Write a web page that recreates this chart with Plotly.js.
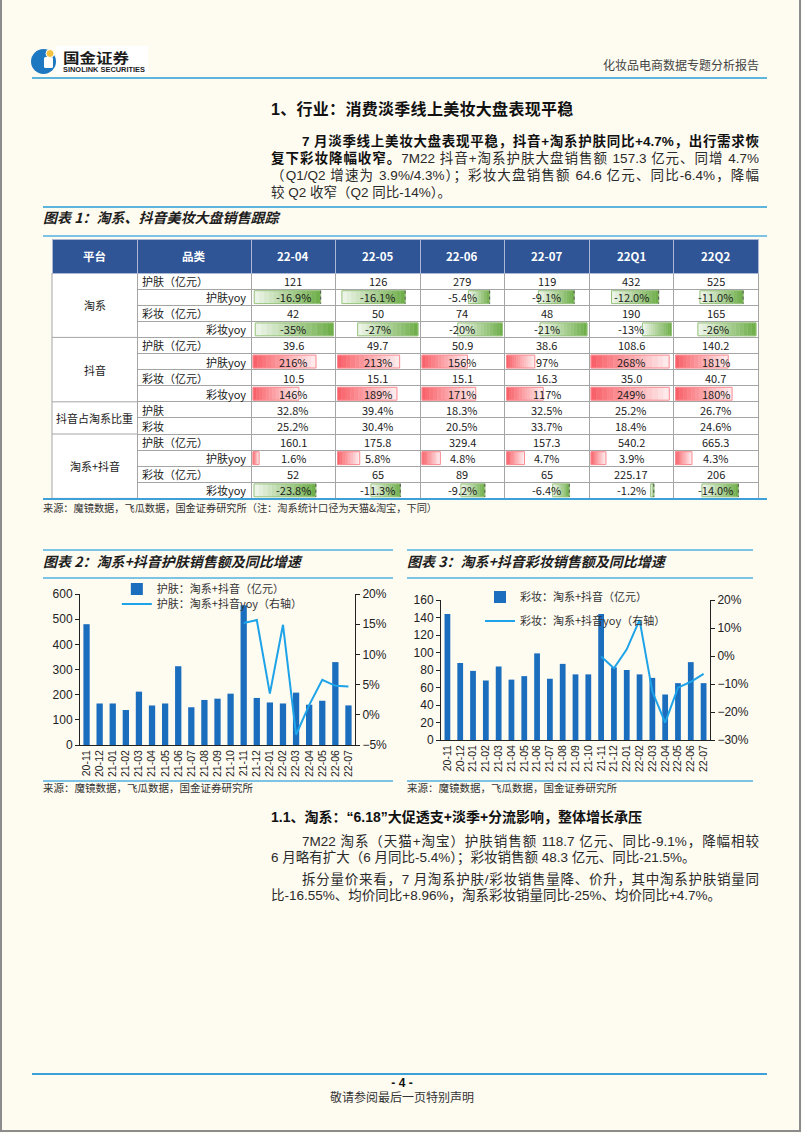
<!DOCTYPE html>
<html lang="zh-CN">
<head>
<meta charset="utf-8">
<title>化妆品电商数据专题分析报告</title>
<script src="https://cdn.plot.ly/plotly-3.0.1.min.js"></script>
<style>
html,body{margin:0;padding:0;background:#fefbf1;}
#page{position:relative;width:802px;height:1133px;overflow:hidden;background:#fefbf1;
  font-family:"Liberation Sans",Arial,"Noto Sans CJK SC",sans-serif;color:#262626;}
.frame{position:absolute;left:0;top:0;width:801px;height:1132px;box-sizing:border-box;
  border-left:2px solid #8c8c8c;border-right:2px solid #8c8c8c;border-bottom:2px solid #8c8c8c;}
.t{position:absolute;white-space:nowrap;}
.hr{position:absolute;background:#5db4dd;height:2px;}
.p{position:absolute;left:271px;width:488px;font-size:13.5px;height:17px;line-height:17px;
  text-align:justify;text-align-last:justify;color:#2a2a2a;}
.p.l{text-align:left;text-align-last:left;}
.ind{text-indent:31px;}
.fig{font-family:"Noto Sans CJK SC",sans-serif;font-weight:bold;font-style:italic;font-size:14px;
  color:#1e1e1e;line-height:18px;}
.src{font-family:"Noto Sans CJK SC",sans-serif;font-size:10.2px;color:#333;line-height:14px;}
.plot{position:absolute;}
</style>
</head>
<body>
<div id="page">
  <div class="frame"></div>

  <!-- header -->
  <svg class="t" style="left:28px;top:44px" width="125" height="36" viewBox="28 44 125 36">
    <rect x="56" y="46" width="92" height="28" fill="#ffffff"/>
    <circle cx="43.5" cy="61.5" r="12.5" fill="#1d78c1"/>
    <rect x="44" y="57" width="9" height="11" rx="1.5" fill="#ffffff"/>
    <circle cx="50" cy="53.5" r="4" fill="#f4c23c" stroke="#ffffff" stroke-width="1"/>
    <text x="63" y="62.5" font-size="14" font-weight="bold" font-family="Noto Sans CJK SC" fill="#1b1b1b" textLength="66" lengthAdjust="spacingAndGlyphs">国金证券</text>
    <text x="63" y="71.5" font-size="7.5" font-weight="bold" font-family="Liberation Sans" fill="#1b1b1b" textLength="82" lengthAdjust="spacingAndGlyphs">SINOLINK SECURITIES</text>
  </svg>
  <div class="t" style="left:593px;width:166px;top:57px;line-height:16px;font-size:12px;text-align:right;color:#444;font-family:'Noto Sans CJK SC',sans-serif;">化妆品电商数据专题分析报告</div>
  <div class="hr" style="left:32px;top:77px;width:735px;"></div>

  <!-- section 1 -->
  <div class="t" style="left:271px;top:100px;font-size:16px;line-height:20px;font-weight:bold;color:#111;letter-spacing:0.3px;">1、行业：消费淡季线上美妆大盘表现平稳</div>
  <div class="p ind" style="top:132.5px"><b style="color:#111">7 月淡季线上美妆大盘表现平稳，抖音+淘系护肤同比+4.7%，出行需求恢</b></div>
  <div class="p" style="top:149.5px"><b style="color:#111">复下彩妆降幅收窄。</b>7M22 抖音+淘系护肤大盘销售额 157.3 亿元、同增 4.7%</div>
  <div class="p" style="top:166.5px">（Q1/Q2 增速为 3.9%/4.3%）；彩妆大盘销售额 64.6 亿元、同比-6.4%，降幅</div>
  <div class="p l" style="top:183.5px">较 Q2 收窄（Q2 同比-14%）。</div>
  <div class="hr" style="left:43px;top:206px;width:724px;"></div>

  <!-- figure 1 -->
  <div class="t fig" style="left:43px;top:208px;">图表 1：淘系、抖音美妆大盘销售跟踪</div>
  <div class="hr" style="left:43px;top:235px;width:724px;height:1.5px;background:#7cc3e6;"></div>
  <div id="tbl" class="plot" style="left:50px;top:237px;width:710px;height:264px;"></div>
  <div class="hr" style="left:43px;top:498px;width:724px;background:#3ea0d8;"></div>
  <div class="t src" style="left:43px;top:501px;">来源：魔镜数据，飞瓜数据，国金证券研究所（注：淘系统计口径为天猫&amp;淘宝，下同）</div>

  <!-- figure 2 -->
  <div class="hr" style="left:43px;top:549px;width:350px;height:1.5px;background:#7cc3e6;"></div>
  <div class="t fig" style="left:43px;top:552px;">图表 2：淘系+抖音护肤销售额及同比增速</div>
  <div class="hr" style="left:43px;top:577px;width:350px;height:1.5px;background:#7cc3e6;"></div>
  <div id="c2" class="plot" style="left:40px;top:578px;width:362px;height:205px;"></div>
  <div class="hr" style="left:43px;top:780px;width:350px;height:1.5px;background:#7cc3e6;"></div>
  <div class="t src" style="left:43px;top:781px;font-size:10.5px;">来源：魔镜数据，飞瓜数据，国金证券研究所</div>

  <!-- figure 3 -->
  <div class="hr" style="left:407px;top:549px;width:346px;height:1.5px;background:#7cc3e6;"></div>
  <div class="t fig" style="left:407px;top:552px;">图表 3：淘系+抖音彩妆销售额及同比增速</div>
  <div class="hr" style="left:407px;top:577px;width:346px;height:1.5px;background:#7cc3e6;"></div>
  <div id="c3" class="plot" style="left:400px;top:578px;width:360px;height:205px;"></div>
  <div class="hr" style="left:407px;top:780px;width:346px;height:1.5px;background:#7cc3e6;"></div>
  <div class="t src" style="left:407px;top:781px;font-size:10.5px;">来源：魔镜数据，飞瓜数据，国金证券研究所</div>

  <!-- section 1.1 -->
  <div class="t" style="left:271px;top:808px;font-size:14px;line-height:18px;font-weight:bold;color:#111;">1.1、淘系：“6.18”大促透支+淡季+分流影响，整体增长承压</div>
  <div class="p ind" style="top:832.5px">7M22 淘系（天猫+淘宝）护肤销售额 118.7 亿元、同比-9.1%，降幅相较</div>
  <div class="p l" style="top:848.5px">6 月略有扩大（6 月同比-5.4%）；彩妆销售额 48.3 亿元、同比-21.5%。</div>
  <div class="p ind" style="top:870.5px">拆分量价来看，7 月淘系护肤/彩妆销售量降、价升，其中淘系护肤销量同</div>
  <div class="p l" style="top:886.5px">比-16.55%、均价同比+8.96%，淘系彩妆销量同比-25%、均价同比+4.7%。</div>

  <!-- footer -->
  <div class="hr" style="left:32px;top:1073px;width:735px;background:#3ea0d8;"></div>
  <div class="t" style="left:352px;width:100px;top:1076px;line-height:14px;font-size:12px;font-weight:bold;text-align:center;color:#111;">- 4 -</div>
  <div class="t" style="left:302px;width:200px;top:1090px;line-height:14px;font-size:12px;text-align:center;color:#333;font-family:'Noto Sans CJK SC',sans-serif;">敬请参阅最后一页特别声明</div>
</div>

<script>
// ---------------- data: table ----------------
const tableHeader = ['平台', '品类', '22-04', '22-05', '22-06', '22-07', '22Q1', '22Q2'];
const platforms = ['淘系', '抖音', '抖音占淘系比重', '淘系+抖音'];
const platformRowCounts = [4, 4, 2, 4];
const categories = ['护肤（亿元）', '护肤yoy', '彩妆（亿元）', '彩妆yoy',
                    '护肤（亿元）', '护肤yoy', '彩妆（亿元）', '彩妆yoy',
                    '护肤', '彩妆',
                    '护肤（亿元）', '护肤yoy', '彩妆（亿元）', '彩妆yoy'];
const taoSkin = [121, 126, 279, 119, 432, 525];
const taoSkinYoy = [-16.9, -16.1, -5.4, -9.1, -12.0, -11.0];
const taoMakeup = [42, 50, 74, 48, 190, 165];
const taoMakeupYoy = [-35, -27, -20, -21, -13, -26];
const dySkin = [39.6, 49.7, 50.9, 38.6, 108.6, 140.2];
const dySkinYoy = [216, 213, 156, 97, 268, 181];
const dyMakeup = [10.5, 15.1, 15.1, 16.3, 35.0, 40.7];
const dyMakeupYoy = [146, 189, 171, 117, 249, 180];
const dyShareSkin = [32.8, 39.4, 18.3, 32.5, 25.2, 26.7];
const dyShareMakeup = [25.2, 30.4, 20.5, 33.7, 18.4, 24.6];
const totSkin = [160.1, 175.8, 329.4, 157.3, 540.2, 665.3];
const totSkinYoy = [1.6, 5.8, 4.8, 4.7, 3.9, 4.3];
const totMakeup = [52, 65, 89, 65, 225.17, 206];
const totMakeupYoy = [-23.8, -11.3, -9.2, -6.4, -1.2, -14.0];

// ---------------- data: charts ----------------
const months = ['20-11', '20-12', '21-01', '21-02', '21-03', '21-04', '21-05', '21-06', '21-07', '21-08', '21-09',
                '21-10', '21-11', '21-12', '22-01', '22-02', '22-03', '22-04', '22-05', '22-06', '22-07'];
const yoyMonths = ['21-11', '21-12', '22-01', '22-02', '22-03', '22-04', '22-05', '22-06', '22-07'];
const skinSales = [480, 165, 165, 139, 212, 157, 165, 313, 150, 179, 184, 204, 555, 187, 169, 165, 208, 160.1, 175.8, 329.4, 157.3];
const skinYoy = [15.2, 15.7, 3.5, 14.9, -3.3, 1.6, 5.8, 4.8, 4.7];
const makeupSales = [144, 88, 79, 68, 84, 69, 73, 99, 70, 87, 75, 75, 144, 83, 80, 75, 71, 52, 65, 89, 65];
const makeupYoy = [-0.2, -4.4, 2.4, 12.9, -12.7, -23.8, -11.3, -9.2, -6.4];

// ---------------- helpers ----------------
const FONT_CJK = '"Noto Sans CJK SC", "Liberation Sans", sans-serif';
const FONT_NUM = '"Liberation Sans", Arial, sans-serif';
const fmtRaw = v => String(v);
const fmt1 = v => v.toFixed(1);
const pct0 = v => v.toFixed(0) + '%';
const pct1 = v => v.toFixed(1) + '%';

const tableRows = [
  {vals: taoSkin, fmt: fmtRaw}, {vals: taoSkinYoy, fmt: pct1},
  {vals: taoMakeup, fmt: fmtRaw}, {vals: taoMakeupYoy, fmt: pct0},
  {vals: dySkin, fmt: fmt1}, {vals: dySkinYoy, fmt: pct0},
  {vals: dyMakeup, fmt: fmt1}, {vals: dyMakeupYoy, fmt: pct0},
  {vals: dyShareSkin, fmt: pct1}, {vals: dyShareMakeup, fmt: pct1},
  {vals: totSkin, fmt: fmt1}, {vals: totSkinYoy, fmt: pct1},
  {vals: totMakeup, fmt: fmtRaw}, {vals: totMakeupYoy, fmt: pct1}
];
// data-bar scale per row (axis position within the cell, value that fills the cell)
const dataBarScale = {1: {axis: 0.84, full: 20.5}, 3: {axis: 1, full: 36}, 5: {axis: 0, full: 276},
                      7: {axis: 0, full: 256}, 11: {axis: 0, full: 21}, 13: {axis: 0.78, full: 31}};

// ---------------- table figure ----------------
const FIG_W = 710, FIG_H = 264, TX0 = 2, TY0 = 2, HEAD_H = 34, ROW_H = 16.1, PAD = 2;
const colW = [85, 114, 84.5, 84.5, 84.5, 84.5, 84.5, 84.5];
const colX = [];
colW.reduce((acc, w) => { colX.push(acc); return acc + w; }, TX0);
const tableW = colW.reduce((a, b) => a + b, 0);
const nRows = categories.length;
const bodyTop = TY0 + HEAD_H;
const rowY = r => bodyTop + (r + 0.5) * ROW_H;
const GRID = '#a5a5a5';

const RED = [248, 92, 100], GREEN = [108, 172, 70];
const mix = (c, t) => 'rgb(' + c.map(v => Math.round(v * (1 - t) + 255 * t)).join(',') + ')';

const emptyCol = new Array(nRows).fill('');
const tableTrace = {
  type: 'table',
  domain: {x: [TX0 / FIG_W, (TX0 + tableW) / FIG_W], y: [0, 1 - TY0 / FIG_H]},
  columnwidth: colW,
  header: {values: tableHeader.map(() => ''), height: HEAD_H, fill: {color: '#2f5597'},
           line: {color: '#aab8d6', width: 1}},
  cells: {values: colW.map(() => emptyCol), height: ROW_H, fill: {color: 'rgba(0,0,0,0)'},
          line: {color: colW.map((w, i) => new Array(nRows).fill(i === 0 ? 'rgba(0,0,0,0)' : GRID)), width: 1}},
  hoverinfo: 'skip'
};

// gradient data bars built from the yoy rows
const NSEG = 14;
const barTraces = [];
const outline = {y: [], x: [], base: [], col: []};
const axisShapes = [];
const segs = Array.from({length: NSEG}, () => ({y: [], x: [], base: [], col: []}));
tableRows.forEach((row, r) => {
  const sc = dataBarScale[r];
  if (!sc) return;
  row.vals.forEach((v, c) => {
    const left = colX[c + 2] + PAD, w = colW[c + 2] - 2 * PAD;
    const ax = left + sc.axis * w;
    const len = v / sc.full * w;
    const base = v >= 0 ? RED : GREEN;
    for (let k = 0; k < NSEG; k++) {
      segs[k].y.push(rowY(r));
      segs[k].base.push(ax + len * k / NSEG);
      segs[k].x.push(len / NSEG);
      segs[k].col.push(mix(base, ((k + 0.5) / NSEG) * 0.9));
    }
    outline.y.push(rowY(r)); outline.base.push(ax); outline.x.push(len);
    outline.col.push(mix(base, 0.3));
    if (sc.axis > 0 && sc.axis < 1) {
      axisShapes.push({type: 'line', xref: 'x', yref: 'y', x0: ax, x1: ax,
        y0: rowY(r) - ROW_H / 2 + 1.5, y1: rowY(r) + ROW_H / 2 - 1.5,
        line: {color: '#555', width: 1, dash: 'dot'}, layer: 'above'});
    }
  });
});
segs.forEach(s => barTraces.push({
  type: 'bar', orientation: 'h', y: s.y, x: s.x, base: s.base, width: ROW_H * 0.8,
  marker: {color: s.col, line: {color: s.col, width: 0.6}}, hoverinfo: 'skip', showlegend: false
}));
barTraces.push({
  type: 'bar', orientation: 'h', y: outline.y, x: outline.x, base: outline.base, width: ROW_H * 0.8,
  marker: {color: 'rgba(0,0,0,0)', line: {color: outline.col, width: 1}}, hoverinfo: 'skip', showlegend: false
});

// text annotations for the table
const ann = [];
tableHeader.forEach((h, i) => ann.push({xref: 'x', yref: 'y', x: colX[i] + colW[i] / 2, y: TY0 + HEAD_H / 2,
  text: '<b>' + h + '</b>', showarrow: false, xanchor: 'center', yanchor: 'middle',
  font: {family: FONT_CJK, size: 11.5, color: '#ffffff'}}));
let startRow = 0;
platforms.forEach((p, g) => {
  const n = platformRowCounts[g];
  ann.push({xref: 'x', yref: 'y', x: colX[0] + colW[0] / 2, y: bodyTop + (startRow + n / 2) * ROW_H,
    text: p, showarrow: false, xanchor: 'center', yanchor: 'middle', font: {family: FONT_CJK, size: 11, color: '#1a1a1a'}});
  startRow += n;
});
categories.forEach((cat, r) => {
  const right = cat.indexOf('yoy') >= 0;
  ann.push({xref: 'x', yref: 'y', x: right ? colX[2] - 3 : colX[1] + 3, y: rowY(r), text: cat, showarrow: false,
    xanchor: right ? 'right' : 'left', yanchor: 'middle', font: {family: FONT_CJK, size: 11, color: '#1a1a1a'}});
});
tableRows.forEach((row, r) => {
  row.vals.forEach((v, c) => ann.push({xref: 'x', yref: 'y', x: colX[c + 2] + colW[c + 2] / 2, y: rowY(r),
    text: row.fmt(v), showarrow: false, xanchor: 'center', yanchor: 'middle',
    font: {family: FONT_CJK, size: 11, color: '#1a1a1a'}}));
});

// borders for merged platform column
const tableShapes = [
  {type: 'rect', xref: 'x', yref: 'y', x0: TX0, x1: TX0 + tableW, y0: bodyTop, y1: bodyTop + nRows * ROW_H,
   fillcolor: '#ffffff', line: {width: 0}, layer: 'below'},
  {type: 'line', xref: 'x', yref: 'y', x0: TX0, x1: TX0, y0: bodyTop, y1: bodyTop + nRows * ROW_H,
   line: {color: GRID, width: 1}, layer: 'above'}
];
let acc = 0;
platformRowCounts.forEach(n => {
  acc += n;
  tableShapes.push({type: 'line', xref: 'x', yref: 'y', x0: TX0, x1: TX0 + colW[0],
    y0: bodyTop + acc * ROW_H, y1: bodyTop + acc * ROW_H, line: {color: GRID, width: 1}, layer: 'above'});
});

Plotly.newPlot('tbl', [tableTrace].concat(barTraces), {
  width: FIG_W, height: FIG_H, margin: {l: 0, r: 0, t: 0, b: 0, pad: 0, autoexpand: false},
  paper_bgcolor: 'rgba(0,0,0,0)', plot_bgcolor: 'rgba(0,0,0,0)',
  barmode: 'overlay', showlegend: false,
  xaxis: {domain: [0, 1], range: [0, FIG_W], visible: false, fixedrange: true},
  yaxis: {domain: [0, 1], range: [FIG_H, 0], visible: false, fixedrange: true},
  shapes: tableShapes.concat(axisShapes),
  annotations: ann
}, {staticPlot: true, displayModeBar: false});

// ---------------- charts ----------------
const BAR_BLUE = '#1b6dbe', LINE_BLUE = '#1ea3e8';
function comboLayout(o) {
  const axisCommon = {showline: true, linecolor: '#222', linewidth: 1, showgrid: false, zeroline: false,
                      ticks: 'outside', ticklen: 4, tickcolor: '#222', tickfont: {family: FONT_NUM, size: 12, color: '#222'},
                      fixedrange: true, automargin: false};
  const legendCommon = {xanchor: 'left', yanchor: 'middle', bgcolor: 'rgba(0,0,0,0)', borderwidth: 0,
                        font: {family: FONT_CJK, size: 11, color: '#333'}};
  return {
    width: o.w, height: o.h, margin: Object.assign({autoexpand: false}, o.margin),
    paper_bgcolor: 'rgba(0,0,0,0)', plot_bgcolor: 'rgba(0,0,0,0)',
    bargap: o.bargap, showlegend: true,
    font: {family: FONT_NUM, size: 12, color: '#222'},
    xaxis: {type: 'category', categoryorder: 'array', categoryarray: months, tickmode: 'array',
            tickvals: months, ticktext: months, tickangle: -90, automargin: false,
            tickfont: {family: FONT_NUM, size: 10.5, color: '#222'}, showline: true, linecolor: '#222', linewidth: 1,
            ticks: '', showgrid: false, zeroline: false, fixedrange: true},
    yaxis: Object.assign({range: o.yRange, dtick: o.yDtick, tick0: 0}, axisCommon),
    yaxis2: Object.assign({overlaying: 'y', side: 'right', range: o.y2Range, dtick: o.y2Dtick, tick0: 0,
                           ticksuffix: '%'}, axisCommon),
    legend: Object.assign({x: o.legX, y: o.leg1Y}, legendCommon),
    legend2: Object.assign({x: o.legX, y: o.leg2Y}, legendCommon)
  };
}

Plotly.newPlot('c2', [
  {type: 'bar', x: months, y: skinSales, name: '护肤：淘系+抖音（亿元）', marker: {color: BAR_BLUE}, legend: 'legend'},
  {type: 'scatter', mode: 'lines', x: yoyMonths, y: skinYoy, yaxis: 'y2', name: '护肤：淘系+抖音yoy（右轴）',
   line: {color: LINE_BLUE, width: 2}, legend: 'legend2'}
], comboLayout({w: 362, h: 205, margin: {l: 40, r: 47, t: 16, b: 38, pad: 0}, bargap: 0.52,
  yRange: [0, 600], yDtick: 100, y2Range: [-5, 20], y2Dtick: 5, legX: 0.134, leg1Y: 1.033, leg2Y: 0.934}),
  {staticPlot: true, displayModeBar: false});

Plotly.newPlot('c3', [
  {type: 'bar', x: months, y: makeupSales, name: '彩妆：淘系+抖音（亿元）', marker: {color: BAR_BLUE}, legend: 'legend'},
  {type: 'scatter', mode: 'lines', x: yoyMonths, y: makeupYoy, yaxis: 'y2', name: '彩妆：淘系+抖音yoy（右轴）',
   line: {color: LINE_BLUE, width: 2}, legend: 'legend2'}
], comboLayout({w: 360, h: 205, margin: {l: 41, r: 50, t: 22, b: 43, pad: 0}, bargap: 0.55,
  yRange: [0, 160], yDtick: 20, y2Range: [-30, 20], y2Dtick: 10, legX: 0.145, leg1Y: 1.021, leg2Y: 0.85}),
  {staticPlot: true, displayModeBar: false});
</script>
</body>
</html>
